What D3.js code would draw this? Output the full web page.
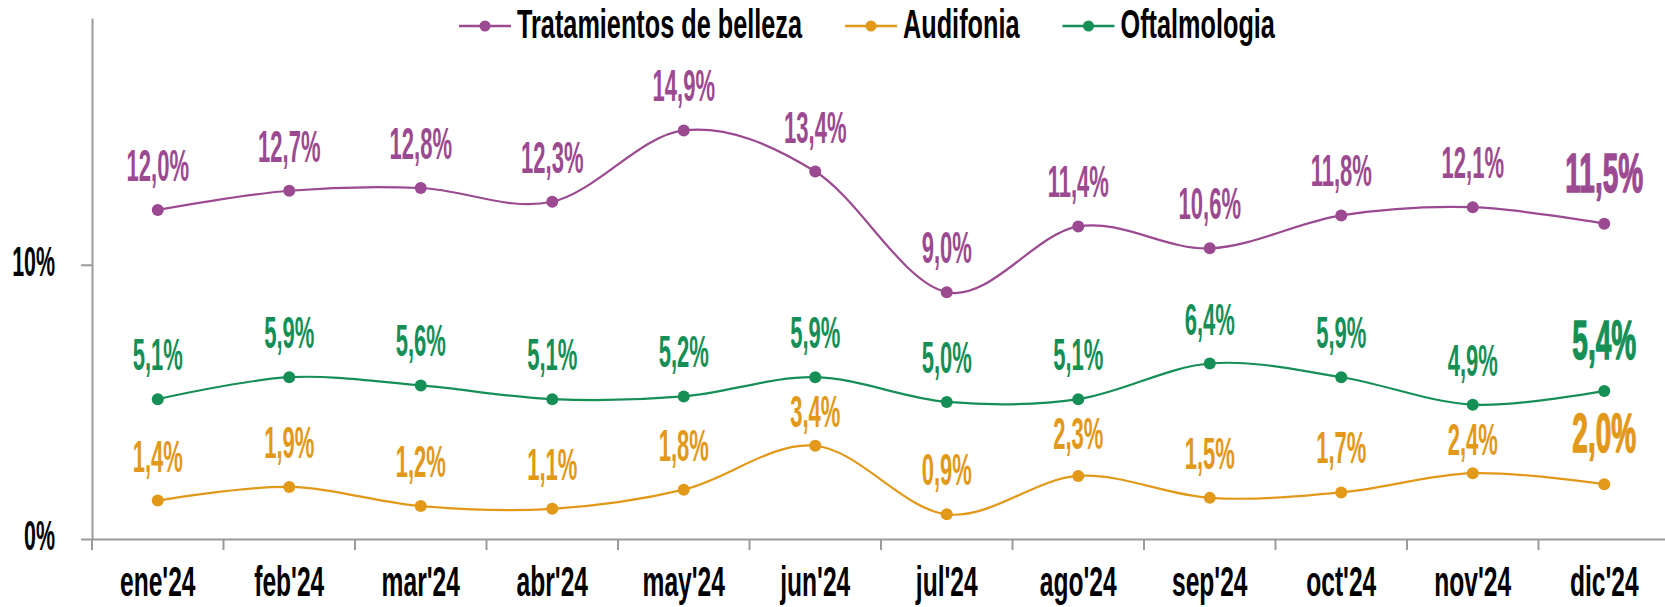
<!DOCTYPE html>
<html>
<head>
<meta charset="utf-8">
<script src="https://cdn.jsdelivr.net/npm/d3@7"></script>
<style>
  body { margin: 0; background: #fff; }
  text { font-family: "Liberation Sans", Arial, sans-serif; font-weight: bold; }
</style>
</head>
<body>
<svg id="chart" width="1665" height="607"></svg>
<script>
// data
const months = ["ene'24", "feb'24", "mar'24", "abr'24", "may'24", "jun'24",
                "jul'24", "ago'24", "sep'24", "oct'24", "nov'24", "dic'24"];
const seriesNames = ["Tratamientos de belleza", "Audifonia", "Oftalmologia"];
const belleza = [12.0, 12.7, 12.8, 12.3, 14.9, 13.4, 9.0, 11.4, 10.6, 11.8, 12.1, 11.5];
const audifonia = [1.4, 1.9, 1.2, 1.1, 1.8, 3.4, 0.9, 2.3, 1.5, 1.7, 2.4, 2.0];
const oftalmologia = [5.1, 5.9, 5.6, 5.1, 5.2, 5.9, 5.0, 5.1, 6.4, 5.9, 4.9, 5.4];
const yTicks = [0, 10];
const yMax = 19;

const colors = ["#9B4A91", "#E29819", "#168F56"];
const seriesValues = [belleza, audifonia, oftalmologia];

function drawChart() {
  const svg = d3.select('#chart');

  const plot = { left: 92, right: 1670, top: 18, bottom: 539 };

  // scales
  const x = d3.scaleBand()
              .domain(months)
              .range([plot.left, plot.right])
              .padding(0);

  const y = d3.scaleLinear()
              .domain([0, yMax])
              .range([plot.bottom, plot.top]);

  const cx = m => x(m) + x.bandwidth() / 2;
  const axisColor = '#9a9a9a';

  // y axis
  const yAxis = svg.append('g')
      .attr('class', 'axis y')
      .attr('transform', `translate(${plot.left},0)`)
      .call(d3.axisLeft(y).tickValues(yTicks).tickSize(11).tickSizeOuter(0).tickFormat(d => d + '%'));

  yAxis.select('.domain').attr('stroke', axisColor).attr('stroke-width', 2);
  yAxis.selectAll('.tick line').attr('stroke', axisColor).attr('stroke-width', 2);
  yAxis.selectAll('.tick text')
      .attr('x', 0).attr('dy', 0).attr('y', 0)
      .attr('transform', 'translate(-37,10.5) scale(0.51,1)')
      .style('font-size', '42px')
      .style('fill', '#000')
      .style('text-anchor', 'end');

  // x axis
  const xAxis = svg.append('g')
      .attr('class', 'axis x')
      .attr('transform', `translate(0,${plot.bottom})`)
      .call(d3.axisBottom(x).tickSize(0).tickSizeOuter(0));

  xAxis.select('.domain').attr('stroke', axisColor).attr('stroke-width', 2);
  xAxis.selectAll('.tick text')
      .attr('y', 0).attr('dy', 0)
      .attr('transform', 'translate(0,57) scale(0.572,1)')
      .style('font-size', '43px')
      .style('fill', '#000')
      .style('text-anchor', 'middle');

  // tick marks between categories
  xAxis.selectAll('line.sep')
      .data(months.map(m => x(m)).concat([x.range()[1]]))
      .enter()
      .append('line')
        .attr('class', 'sep')
        .attr('x1', d => d).attr('x2', d => d)
        .attr('y1', 0).attr('y2', 11)
        .attr('stroke', axisColor)
        .attr('stroke-width', 2);

  // lines
  const line = d3.line()
      .x((d, i) => cx(months[i]))
      .y(d => y(d))
      .curve(d3.curveCardinal.tension(0));

  seriesValues.forEach((vals, s) => {
    const g = svg.append('g').attr('class', 'series s' + s);

    g.append('path')
      .datum(vals)
      .attr('d', line)
      .attr('fill', 'none')
      .attr('stroke', colors[s])
      .attr('stroke-width', 2.2);

    g.selectAll('circle')
      .data(vals)
      .enter()
      .append('circle')
        .attr('cx', (d, i) => cx(months[i]))
        .attr('cy', d => y(d))
        .attr('r', 6)
        .attr('fill', colors[s]);
  });

  // data labels, pushed down a bit when they would sit on the series above
  const fmt = v => d3.format('.1f')(v).replace('.', ',') + '%';
  seriesValues.forEach((vals, s) => {
    vals.forEach((v, i) => {
      const last = i === vals.length - 1;
      const cap = last ? 39 : 30;
      let base = y(v) - (last ? 32 : 29);
      const above = seriesValues
          .map(arr => arr[i])
          .filter((w, k) => k !== s && w > v);
      if (above.length) {
        const yAbove = y(d3.min(above));
        if (base - cap < yAbove + 20) base = yAbove + 20 + cap;
      }
      const t = svg.append('text')
          .attr('class', 'barLabel')
          .attr('transform', `translate(${cx(months[i])},${base}) scale(0.5,1)`)
          .text(fmt(v))
          .style('fill', colors[s])
          .style('font-size', last ? '56px' : '44px')
          .style('text-anchor', 'middle');
      if (last) {
        t.style('stroke', colors[s]).style('stroke-width', 1.5).style('stroke-linejoin', 'round');
      }
    });
  });

  // legend
  const legend = svg.append('g').attr('class', 'legend');
  let lx = 459;
  const ly = 26;
  seriesNames.forEach((name, s) => {
    legend.append('line')
      .attr('x1', lx).attr('x2', lx + 52)
      .attr('y1', ly).attr('y2', ly)
      .attr('stroke', colors[s])
      .attr('stroke-width', 2.5);
    legend.append('circle')
      .attr('cx', lx + 26).attr('cy', ly)
      .attr('r', 5.5)
      .attr('fill', colors[s]);
    const sx = 0.609;
    const t = legend.append('text')
      .text(name)
      .attr('transform', `translate(${lx + 58},37.8) scale(${sx},1)`)
      .style('font-size', '41.5px')
      .style('fill', '#000');
    const w = t.node().getComputedTextLength() * sx;
    lx += 58 + w + 43;
  });
}

drawChart();
</script>
</body>
</html>
